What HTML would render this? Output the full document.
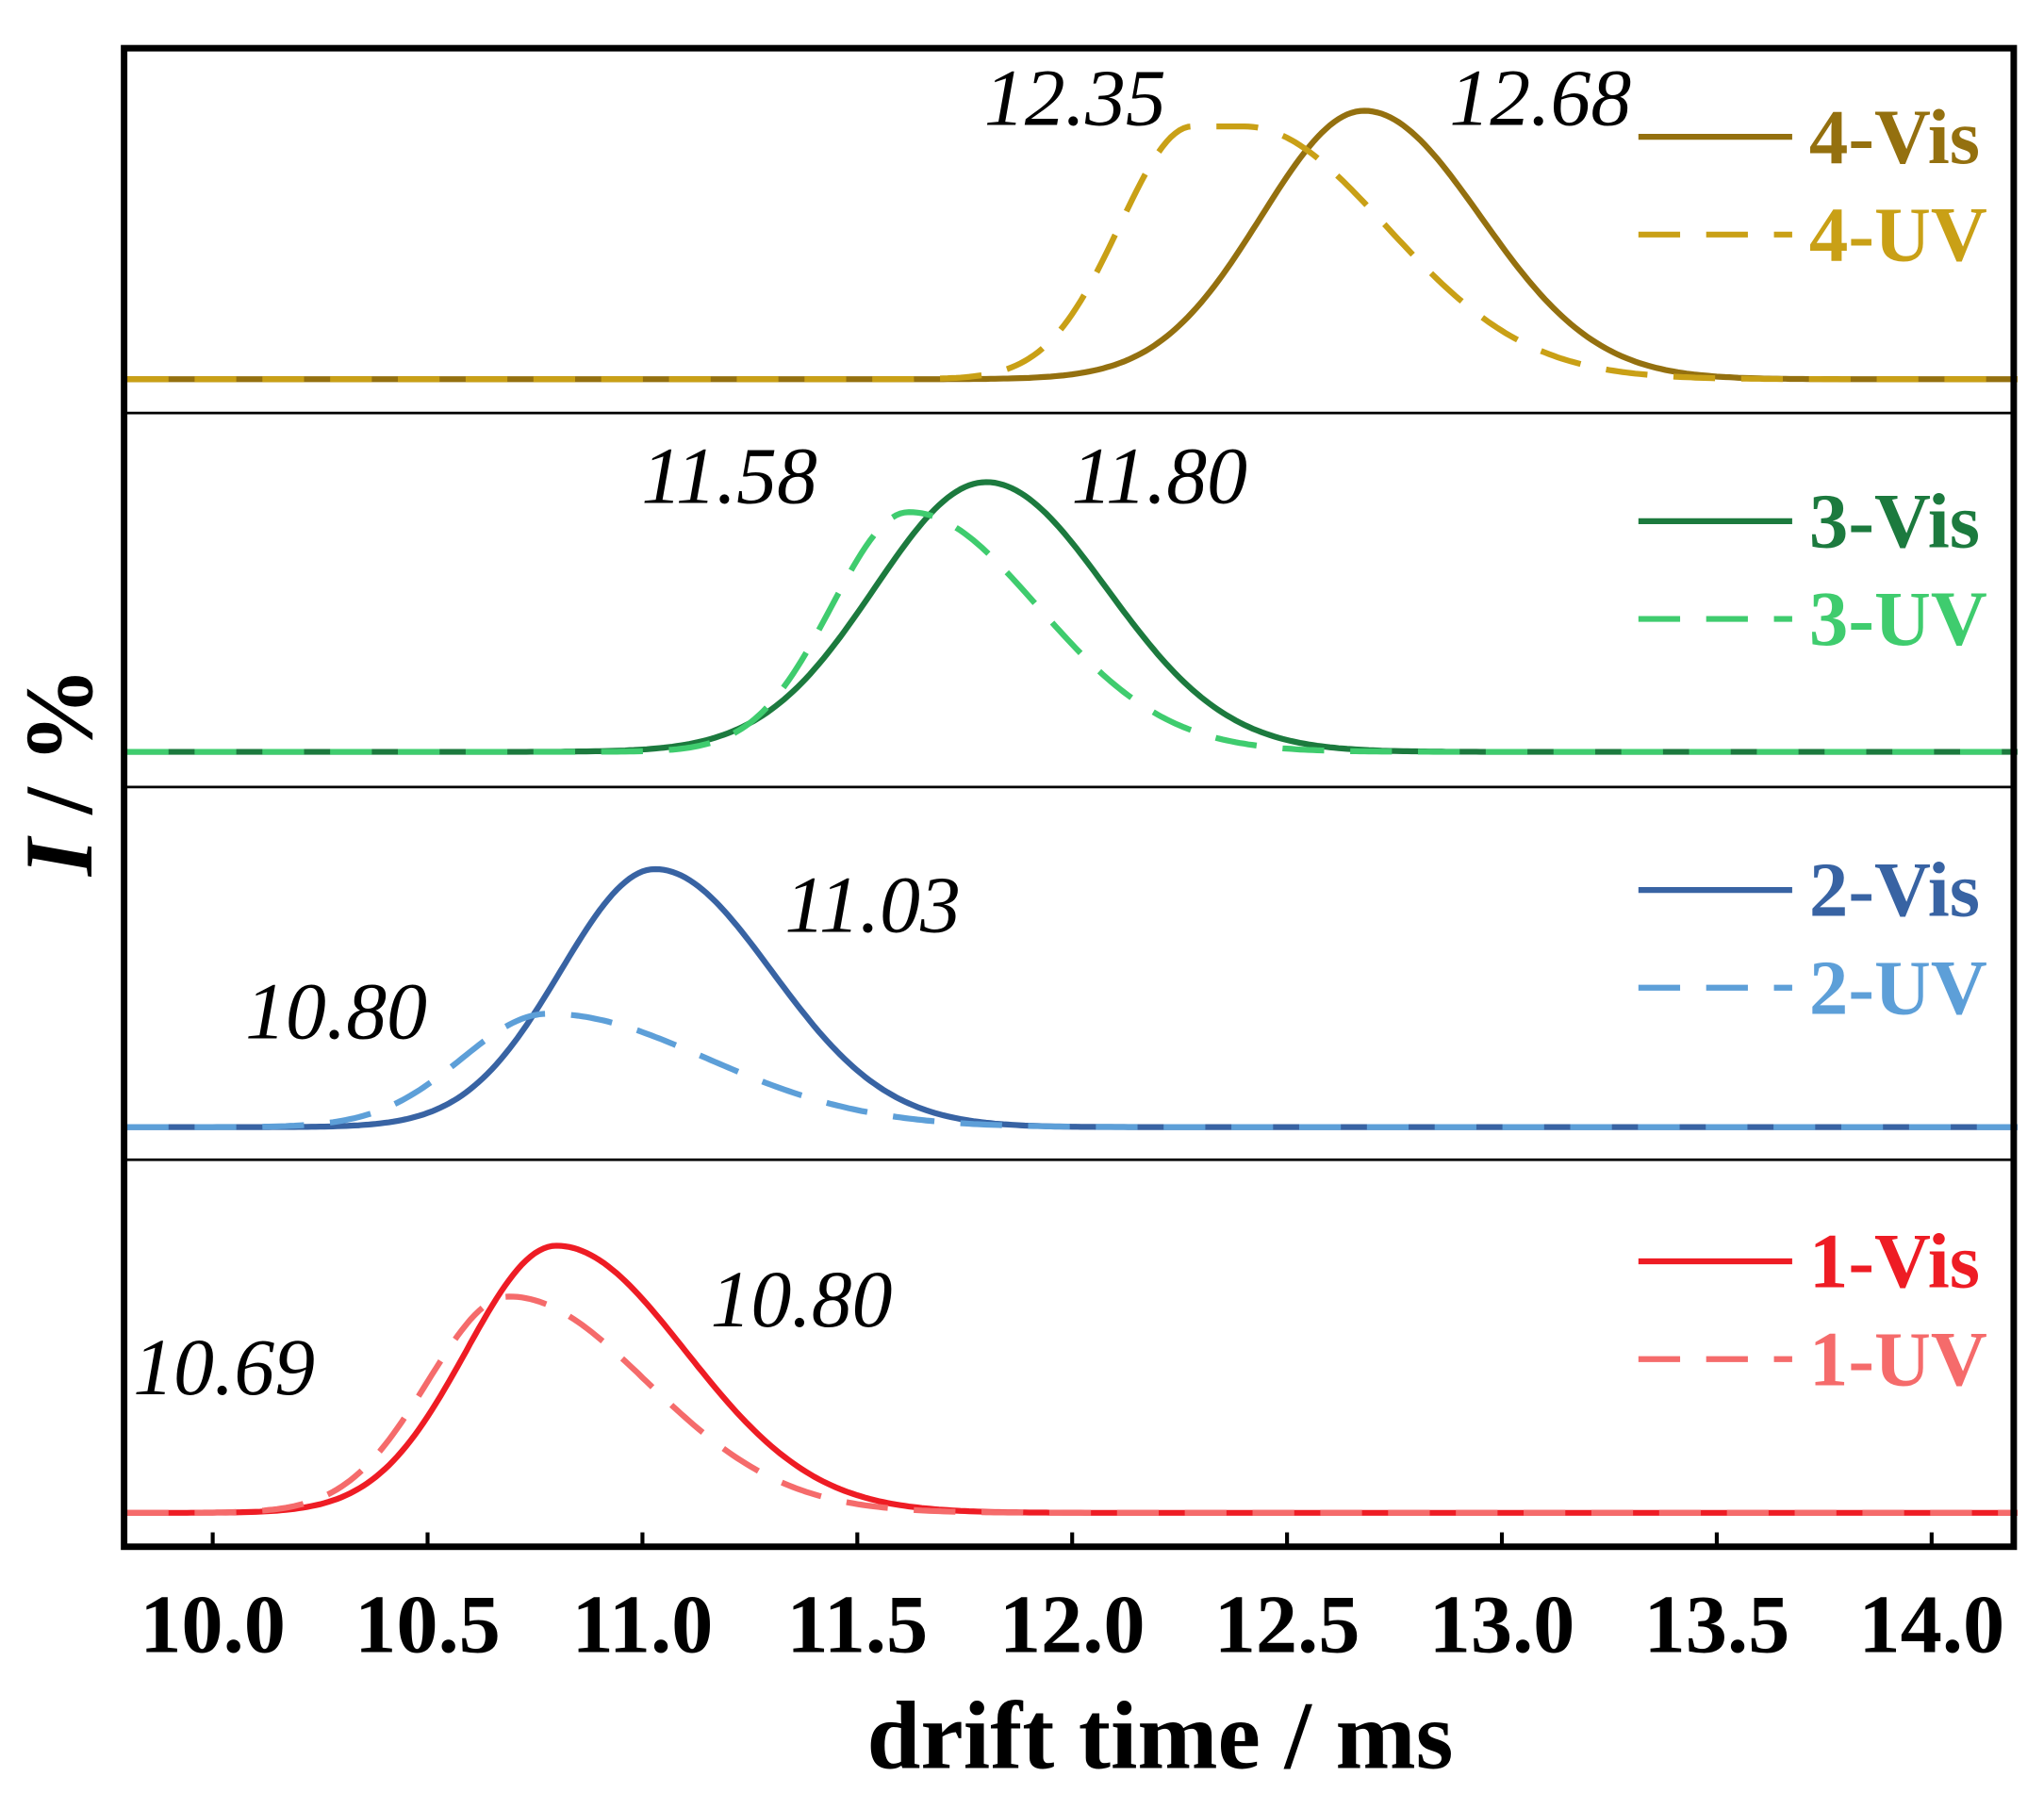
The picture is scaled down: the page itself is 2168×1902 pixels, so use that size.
<!DOCTYPE html>
<html><head><meta charset="utf-8"><style>
html,body{margin:0;padding:0;background:#fff}
svg{display:block}
text{font-family:"Liberation Serif",serif}
</style></head><body>
<svg id="s" width="2168" height="1902" viewBox="0 0 1568 1376" xmlns="http://www.w3.org/2000/svg">
<rect x="0" y="0" width="1568" height="1376" fill="#fff"/>
<g id="curves"></g>
<line x1="95" y1="317" x2="1545" y2="317" stroke="#000" stroke-width="2"/>
<line x1="95" y1="604" x2="1545" y2="604" stroke="#000" stroke-width="2"/>
<line x1="95" y1="890" x2="1545" y2="890" stroke="#000" stroke-width="2"/>
<rect x="95" y="37" width="1450" height="1150" fill="none" stroke="#000" stroke-width="5"/>
<g id="ticks" font-size="64" font-weight="bold" text-anchor="middle"></g>
<text x="890" y="1357" font-size="74" font-weight="bold" text-anchor="middle">drift time / ms</text>
<text transform="translate(70,592) rotate(-90)" font-size="74" font-weight="bold" text-anchor="middle"><tspan font-style="italic">I</tspan> / %</text>
<g font-size="62" font-style="italic">
<text x="755" y="96">12.35</text><text x="1112" y="96">12.68</text>
<text x="492" y="386">11.58</text><text x="822" y="386">11.80</text>
<text x="188" y="797">10.80</text><text x="602" y="715">11.03</text>
<text x="102" y="1070">10.69</text><text x="545" y="1018">10.80</text>
</g>
<g id="leg" font-size="60" font-weight="bold"></g>
</svg>
<script>
var NS="http://www.w3.org/2000/svg";
function X(t){return 163+(t-10)*329.75;}
function el(p,tag,a){var e=document.createElementNS(NS,tag);for(var k in a)e.setAttribute(k,a[k]);p.appendChild(e);return e;}
function peak(base,top,mu,sl,sr,flat){flat=flat||0;return function(t){var g;
 if(t<mu)g=Math.exp(-Math.pow(t-mu,2)/(2*sl*sl));else if(t<mu+flat)g=1;else g=Math.exp(-Math.pow(t-mu-flat,2)/(2*sr*sr));
 return base-(base-top)*g;};}
var series=[
 [peak(291,85,12.68,0.24,0.27),"#94700f",false],
 [peak(291,97,12.28,0.17,0.33,0.12),"#c9a016",true],
 [peak(577,370,11.8,0.26,0.28),"#1c7a3e",false],
 [peak(577,393,11.62,0.18,0.3),"#3fcc6e",true],
 [peak(865,667,11.03,0.22,0.27),"#3863a3",false],
 [peak(865,778,10.78,0.2,0.37),"#5d9fd8",true],
 [peak(1161,956,10.8,0.21,0.3),"#ee1c24",false],
 [peak(1161,995,10.69,0.19,0.32),"#f56b6b",true]
];
var g=document.getElementById("curves");
series.forEach(function(s){var d="";for(var t=9.8;t<=14.2;t+=0.01){d+=(d?"L":"M")+X(t).toFixed(1)+","+s[0](t).toFixed(1);}
 var a={d:d,fill:"none",stroke:s[1],"stroke-width":4.5};if(s[2])a["stroke-dasharray"]="32,20";el(g,"path",a);});
var tk=document.getElementById("ticks");
for(var i=0;i<=8;i++){var t=10+i*0.5;el(tk,"line",{x1:X(t),x2:X(t),y1:1187,y2:1176,stroke:"#000","stroke-width":3});
 var tx=el(tk,"text",{x:X(t),y:1268});tx.textContent=t.toFixed(1);}
var lg=document.getElementById("leg");
var L=[["4-Vis",105,"#94700f",0],["4-UV",180,"#c9a016",1],["3-Vis",400,"#1c7a3e",0],["3-UV",475,"#3fcc6e",1],
["2-Vis",683,"#3863a3",0],["2-UV",758,"#5d9fd8",1],["1-Vis",968,"#ee1c24",0],["1-UV",1043,"#f56b6b",1]];
L.forEach(function(l){var a={x1:1257,x2:1375,y1:l[1],y2:l[1],stroke:l[2],"stroke-width":4.5};if(l[3])a["stroke-dasharray"]="32,20";el(lg,"line",a);
 var t=el(lg,"text",{x:1388,y:l[1]+20,fill:l[2]});t.textContent=l[0];});
</script>
</body></html>
